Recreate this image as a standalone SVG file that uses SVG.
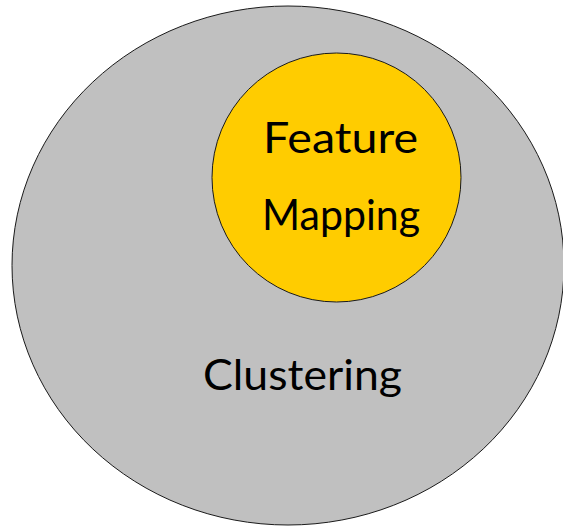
<svg xmlns="http://www.w3.org/2000/svg" width="563" height="526" viewBox="0 0 563 526">
  <style>
    .set { stroke: #1a1a1a; stroke-width: 1; }
    .outer { fill: #c0c0c0; }
    .inner { fill: #ffcc00; }
    .label { font-family: "Comic Sans MS", "Lato", "DejaVu Sans", sans-serif; font-size: 43px; fill: #000000; text-anchor: middle; }
  </style>
  <rect width="563" height="526" fill="#ffffff"/>
  <g id="clustering">
    <ellipse class="set outer" cx="288" cy="265.5" rx="276" ry="259.5"/>
    <text class="label" x="302.5" y="390" textLength="199" lengthAdjust="spacingAndGlyphs">Clustering</text>
  </g>
  <g id="feature-mapping">
    <circle class="set inner" cx="336.5" cy="177.5" r="124.5"/>
    <text class="label" x="340.5" y="153" textLength="155" lengthAdjust="spacingAndGlyphs">Feature</text>
    <text class="label" x="341" y="230" textLength="158" lengthAdjust="spacingAndGlyphs">Mapping</text>
  </g>
  <g id="connectors"/>
</svg>
